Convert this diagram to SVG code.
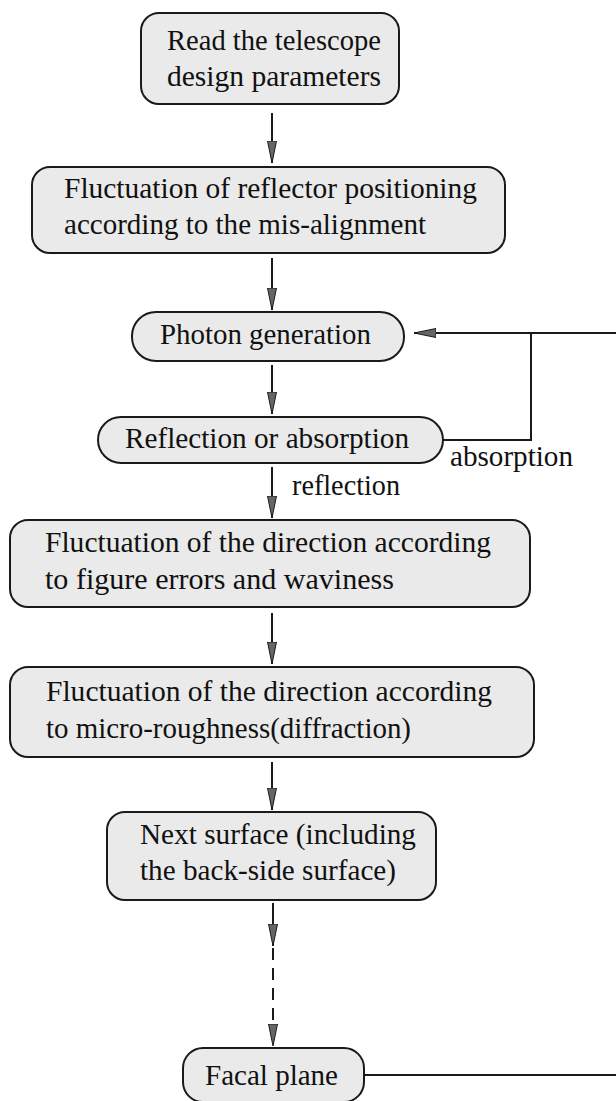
<svg xmlns="http://www.w3.org/2000/svg" width="616" height="1101" viewBox="0 0 616 1101">
<defs>
<style>
.box{fill:#eaeaea;stroke:#1a1a1a;stroke-width:2}
.t{font-family:"Liberation Serif","Times New Roman",serif;font-size:28.5px;fill:#111}
.c{fill:none;stroke:#1a1a1a;stroke-width:2}
</style>
<marker id="ah" viewBox="0 0 22 12" refX="22" refY="6" markerWidth="22" markerHeight="12" markerUnits="userSpaceOnUse" orient="auto">
<path d="M0,1.5 L22,6 L0,10.5 Z" fill="#666" stroke="#1a1a1a" stroke-width="1"/>
</marker>
</defs>
<rect width="616" height="1101" fill="#fff"/>
<g id="connectors">
<line class="c" x1="272" y1="113" x2="272" y2="163" marker-end="url(#ah)"/>
<line class="c" x1="272" y1="258" x2="272" y2="310" marker-end="url(#ah)"/>
<line class="c" x1="272" y1="365" x2="272" y2="414" marker-end="url(#ah)"/>
<line class="c" x1="272" y1="467" x2="272" y2="518" marker-end="url(#ah)"/>
<line class="c" x1="272" y1="613" x2="272" y2="664" marker-end="url(#ah)"/>
<line class="c" x1="272" y1="762" x2="272" y2="810" marker-end="url(#ah)"/>
<line class="c" x1="273" y1="903" x2="273" y2="946" marker-end="url(#ah)"/>
<line class="c" x1="273" y1="948" x2="273" y2="1046" stroke-dasharray="12 8" marker-end="url(#ah)"/>
<polyline class="c" points="443,440 531,440 531,333"/>
<line class="c" x1="616" y1="333" x2="414" y2="333" marker-end="url(#ah)"/>
<line class="c" x1="364" y1="1075" x2="616" y2="1075"/>
<text class="t" x="450" y="466" textLength="123" lengthAdjust="spacingAndGlyphs">absorption</text>
<text class="t" x="292" y="495" textLength="108" lengthAdjust="spacingAndGlyphs">reflection</text>
</g>
<g id="n1">
<rect class="box" x="141" y="13" width="258" height="91" rx="18"/>
<text class="t" x="167" y="50" textLength="214" lengthAdjust="spacingAndGlyphs">Read the telescope</text>
<text class="t" x="167" y="86" textLength="214" lengthAdjust="spacingAndGlyphs">design parameters</text>
</g>
<g id="n2">
<rect class="box" x="32" y="167" width="473" height="86" rx="18"/>
<text class="t" x="64" y="198" textLength="413" lengthAdjust="spacingAndGlyphs">Fluctuation of reflector positioning</text>
<text class="t" x="64" y="234" textLength="362" lengthAdjust="spacingAndGlyphs">according to the mis-alignment</text>
</g>
<g id="n3">
<rect class="box" x="132" y="312" width="272" height="49" rx="24"/>
<text class="t" x="160" y="344" textLength="211" lengthAdjust="spacingAndGlyphs">Photon generation</text>
</g>
<g id="n4">
<rect class="box" x="98" y="417" width="345" height="46" rx="23"/>
<text class="t" x="125" y="448" textLength="284" lengthAdjust="spacingAndGlyphs">Reflection or absorption</text>
</g>
<g id="n5">
<rect class="box" x="10" y="520" width="520" height="87" rx="18"/>
<text class="t" x="45" y="552" textLength="446" lengthAdjust="spacingAndGlyphs">Fluctuation of the direction according</text>
<text class="t" x="45" y="589" textLength="349" lengthAdjust="spacingAndGlyphs">to figure errors and waviness</text>
</g>
<g id="n6">
<rect class="box" x="10" y="667" width="524" height="90" rx="18"/>
<text class="t" x="46" y="701" textLength="446" lengthAdjust="spacingAndGlyphs">Fluctuation of the direction according</text>
<text class="t" x="46" y="738" textLength="365" lengthAdjust="spacingAndGlyphs">to micro-roughness(diffraction)</text>
</g>
<g id="n7">
<rect class="box" x="107" y="812" width="329" height="88" rx="18"/>
<text class="t" x="140" y="844" textLength="276" lengthAdjust="spacingAndGlyphs">Next surface (including</text>
<text class="t" x="140" y="880" textLength="256" lengthAdjust="spacingAndGlyphs">the back-side surface)</text>
</g>
<g id="n8">
<rect class="box" x="183" y="1048" width="181" height="54" rx="20"/>
<text class="t" x="205" y="1085" textLength="133" lengthAdjust="spacingAndGlyphs">Facal plane</text>
</g>
</svg>
